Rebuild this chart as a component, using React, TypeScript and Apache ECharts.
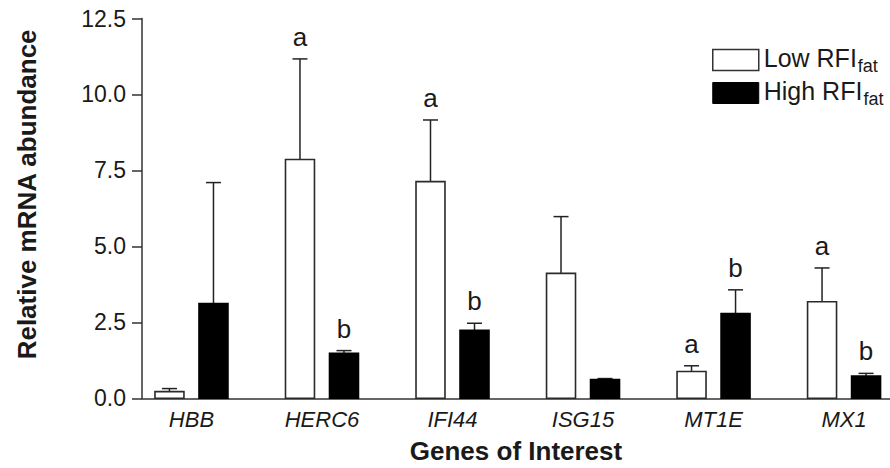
import React, { useEffect, useRef } from 'react';
import * as echarts from 'echarts';

const genes = ['HBB', 'HERC6', 'IFI44', 'ISG15', 'MT1E', 'MX1'];
const lowMean = [0.22, 7.86, 7.13, 4.11, 0.88, 3.18];
const lowSE = [0.1, 3.31, 2.03, 1.87, 0.19, 1.11];
const highMean = [3.12, 1.48, 2.24, 0.62, 2.79, 0.73];
const highSE = [3.98, 0.09, 0.23, 0.03, 0.78, 0.09];
const lowLetters = ['', 'a', 'a', '', 'a', 'a'];
const highLetters = ['', 'b', 'b', '', 'b', 'b'];
const yTicks = [0, 2.5, 5, 7.5, 10, 12.5];
const seriesNames = ['Low RFIfat', 'High RFIfat'];

const FONT = '"Liberation Sans", Arial, Helvetica, sans-serif';
const INK = '#1a1a1a';
const X_MIN = -0.379;
const X_MAX = 5.352;
const BAR_W = 0.222;
const OFFSET = 0.1686;
const CAP = 7.5;

const makeRender = (side: number, filled: boolean, letters: string[]) =>
  (params: any, api: any) => {
    const i = api.value(0);
    const m = api.value(1);
    const se = api.value(2);
    const unit = api.size([1, 0])[0];
    const base = api.coord([i, 0]);
    const cx = base[0] + side * OFFSET * unit;
    const w = BAR_W * unit;
    const y0 = base[1];
    const y1 = api.coord([i, m])[1];
    const y2 = api.coord([i, m + se])[1];
    const lineStyle = { stroke: '#222', lineWidth: 1.5 };
    const children: any[] = [
      { type: 'line', shape: { x1: cx, y1: y1, x2: cx, y2: y2 }, style: lineStyle },
      { type: 'line', shape: { x1: cx - CAP, y1: y2, x2: cx + CAP, y2: y2 }, style: lineStyle },
      {
        type: 'rect',
        shape: { x: cx - w / 2, y: y1, width: w, height: y0 - y1 },
        style: { fill: filled ? '#000' : '#fff', stroke: filled ? '#000' : '#2a2a2a', lineWidth: 1.6 },
      },
    ];
    const t = letters[params.dataIndex];
    if (t) {
      children.push({
        type: 'text',
        style: {
          text: t,
          x: cx,
          y: y2 - 9,
          align: 'center',
          verticalAlign: 'bottom',
          fontSize: 26,
          fontFamily: FONT,
          fill: INK,
        },
      });
    }
    return { type: 'group', children };
  };

export default function App() {
  const ref = useRef<HTMLDivElement>(null);
  useEffect(() => {
    if (!ref.current) return;
    const chart = echarts.init(ref.current, undefined, { renderer: 'svg' });
    const legendRich = {
      m: { fontSize: 25, fontFamily: FONT, color: INK, verticalAlign: 'bottom', padding: [0, 0, 5, 0] },
      s: { fontSize: 18, fontFamily: FONT, color: INK, verticalAlign: 'bottom', padding: [0, 0, 0, 1] },
    };
    chart.setOption({
      animation: false,
      backgroundColor: '#fff',
      textStyle: { fontFamily: FONT },
      grid: { left: 142, right: 0, top: 18.5, bottom: 69.7, containLabel: false, outerBoundsMode: 'none' },
      legend: {
        orient: 'vertical',
        left: 707,
        top: 40,
        itemWidth: 46,
        itemHeight: 21,
        itemGap: 3,
        itemTextGap: 8,
        selectedMode: false,
        data: [
          { name: seriesNames[0], icon: 'rect', itemStyle: { color: '#fff', borderColor: '#333', borderWidth: 1.5 } },
          { name: seriesNames[1], icon: 'rect', itemStyle: { color: '#000', borderColor: '#000', borderWidth: 1 } },
        ],
        formatter: (name: string) =>
          name === seriesNames[0] ? '{m|Low RFI}{s|fat}' : '{m|High RFI}{s|fat}',
        textStyle: { rich: legendRich },
      },
      xAxis: {
        type: 'value',
        min: X_MIN,
        max: X_MAX,
        minInterval: 1,
        maxInterval: 1,
        splitLine: { show: false },
        axisTick: { show: false },
        axisLine: { show: true, onZero: false, lineStyle: { color: '#333', width: 1.5 } },
        axisLabel: {
          formatter: (v: number) => {
            const r = Math.round(v);
            return Math.abs(v - r) < 1e-6 && genes[r] ? genes[r] : '';
          },
          fontStyle: 'italic',
          fontSize: 22,
          fontFamily: FONT,
          color: INK,
          margin: 10,
          showMinLabel: true,
          showMaxLabel: true,
        },
        name: 'Genes of Interest',
        nameLocation: 'middle',
        nameGap: 40,
        nameMoveOverlap: false,
        nameTextStyle: { fontWeight: 'bold', fontSize: 26, fontFamily: FONT, color: INK },
      },
      yAxis: {
        type: 'value',
        min: yTicks[0],
        max: yTicks[yTicks.length - 1],
        interval: yTicks[1] - yTicks[0],
        splitLine: { show: false },
        axisLine: { show: true, onZero: false, lineStyle: { color: '#333', width: 1.5 } },
        axisTick: { show: true, length: 10, lineStyle: { color: '#333', width: 1.5 } },
        axisLabel: {
          formatter: (v: number) => v.toFixed(1),
          fontSize: 23,
          fontFamily: FONT,
          color: INK,
          margin: 16,
        },
        name: 'Relative mRNA abundance',
        nameLocation: 'middle',
        nameGap: 102,
        nameMoveOverlap: false,
        nameTextStyle: { fontWeight: 'bold', fontSize: 26, fontFamily: FONT, color: INK, padding: [0, 0, 0, 28] },
      },
      series: [
        {
          name: seriesNames[0],
          type: 'custom',
          renderItem: makeRender(-1, false, lowLetters),
          encode: { x: 0, y: 1 },
          itemStyle: { color: '#fff', borderColor: '#333' },
          data: lowMean.map((m, i) => [i, m, lowSE[i]]),
        },
        {
          name: seriesNames[1],
          type: 'custom',
          renderItem: makeRender(1, true, highLetters),
          encode: { x: 0, y: 1 },
          itemStyle: { color: '#000' },
          data: highMean.map((m, i) => [i, m, highSE[i]]),
        },
      ],
    });
    return () => chart.dispose();
  }, []);
  return <div ref={ref} style={{ position: 'fixed', left: 0, top: 0, width: 890, height: 468 }} />;
}
